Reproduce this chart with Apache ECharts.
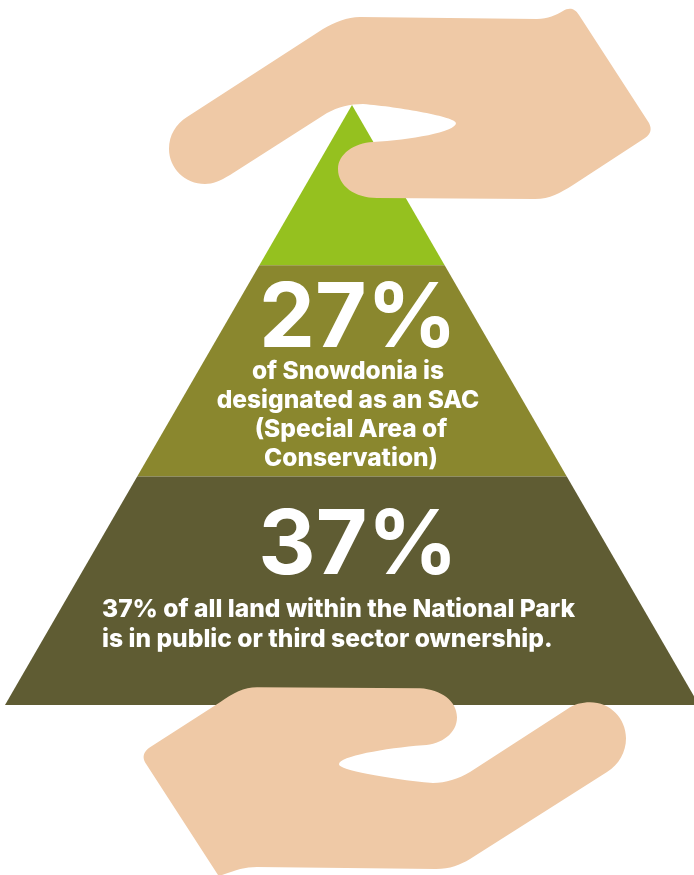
<!DOCTYPE html>
<html>
<head>
<meta charset="utf-8">
<style>html,body{margin:0;padding:0;background:#fff}#c{width:694px;height:875px}</style>
<script src="https://cdn.jsdelivr.net/npm/echarts@6/dist/echarts.min.js"></script>
</head>
<body>
<div id="c"></div>
<script>
// Tier order: top to bottom
const tierNames = ['Top', 'SAC', 'Public or third sector'];
const tierShares = [26.7, 35.2, 38.1];
const tierColors = ['#95C11F', '#8A872E', '#5F5C33'];
const handColor = '#EFC9A6';

const sacValue = '27%';
const sacLines = ['of Snowdonia is', 'designated as an SAC', '(Special Area of', 'Conservation)'];
const ownedValue = '37%';
const ownedLines = ['37% of all land within the National Park', 'is in public or third sector ownership.'];

const upperHand = 'M360 17 L537 19 C548 19 556 15 563 11 C568 8 574 7 579 15 L649 123 C652 129 651 134 645 138 L573 185 C560 193 550 199 535 199 L377 198 C355 198 338 186 338 169 C338 154 354 143 373 142 C410 140 456 132 456 123 C456 117 400 107 363 104 C350 104 338 107 327 113 L230 175 C220 181 213 184 205 184 C185 184 169 168 169 149 C169 135 176 124 187 117 L323 29 C335 22 347 17 360 17 Z';
const lowerHand = 'M257 688 L420 689 C441 690 457 702 457 718 C457 734 442 745 423 746 C385 749 339 757 339 765 C339 771 385 779 433 784 C446 784 458 780 470 773 L567 710 C574 705 582 703 590 703 C610 703 626 719 626 739 C626 753 619 765 607 773 L470 860 C460 866 450 870 436 870 L257 868 C245 868 236 871 222 876 L218 876 L145 763 C142 757 144 752 150 748 L220 703 C233 694 244 688 257 688 Z';
const hands = [upperHand, lowerHand];

const FONT = 'Inter, "Noto Sans", sans-serif';
const canvasBox = 'M0 0 L0 0 M694 875 L694 875 ';

function text(str, x, y, size, align, weight) {
  return {
    type: 'text', z: 110, silent: true, x: x, y: y,
    style: { text: str, fill: '#fff', font: weight + ' ' + size + 'px ' + FONT, textAlign: align, textVerticalAlign: 'middle' }
  };
}

let cum = 0;
const funnelData = tierNames.map((name, i) => {
  cum += tierShares[i];
  return { name, value: +cum.toFixed(1), itemStyle: { color: tierColors[i], height: tierShares[i] + '%' } };
});

const elements = [
  text(sacValue, 358, 320, 89, 'center', 700),
  text(ownedValue, 358, 547, 89, 'center', 700)];
const sacY = [372, 401, 430, 459], sacX = [348, 348, 351, 351];
sacLines.forEach((s, i) => elements.push(text(s, sacX[i], sacY[i], 24.5, 'center', 800)));
ownedLines.forEach((s, i) => elements.push(text(s, 102, 610 + i * 30, 24.6, 'left', 800)));

const chart = echarts.init(document.getElementById('c'), null, { renderer: 'canvas' });
chart.setOption({
  animation: false,
  backgroundColor: '#fff',
  series: [{
    type: 'funnel', left: 5, top: 105, width: 694, height: 600,
    min: 0, max: 100, minSize: '0%', maxSize: '100%',
    sort: 'ascending', gap: 0, silent: true,
    label: { show: false }, labelLine: { show: false },
    itemStyle: { borderWidth: 0 },
    data: funnelData
  }, {
    type: 'custom', coordinateSystem: 'none', z: 5, silent: true,
    data: hands.map((d, i) => [i]),
    renderItem: function (params) {
      return {
        type: 'path',
        shape: { pathData: canvasBox + hands[params.dataIndex], x: 0, y: 0, width: 694, height: 875, layout: 'cover' },
        style: { fill: handColor }
      };
    }
  }],
  graphic: { elements }
});
</script>
</body>
</html>
